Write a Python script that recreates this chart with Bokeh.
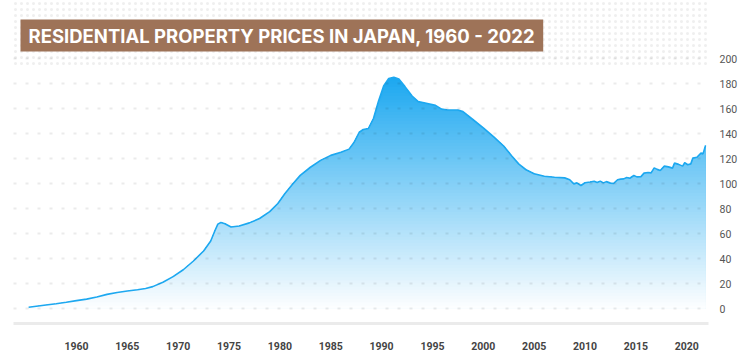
import numpy as np
from bokeh.plotting import figure
from bokeh.models import Label, FixedTicker, Range1d
from bokeh.embed import file_html
from bokeh.resources import INLINE

# ---- data ----
years = [1955.3, 1957.0, 1958.0, 1959.0, 1960.0, 1961.0, 1962.0, 1963.0, 1964.0, 1965.0,
         1966.0, 1966.8, 1967.5, 1968.5, 1969.5, 1970.5, 1971.5, 1972.5, 1973.2, 1973.6,
         1973.9, 1974.2, 1974.6, 1975.2, 1976.0, 1977.0, 1978.0, 1979.0, 1979.8, 1980.5,
         1981.2, 1982.0, 1983.0, 1984.0, 1985.0, 1986.0, 1986.8, 1987.3, 1987.8, 1988.2,
         1988.7, 1989.2, 1989.7, 1990.2, 1990.7, 1991.2, 1991.7, 1992.3, 1993.0, 1993.6,
         1994.5, 1995.3, 1995.9, 1996.5, 1997.5, 1998.0, 1999.0, 2000.0, 2001.0, 2002.0,
         2002.8, 2003.5, 2004.2, 2005.0, 2006.0, 2007.0, 2008.0, 2008.5, 2008.9, 2009.2,
         2009.6, 2010.0, 2010.5, 2010.9, 2011.2, 2011.5, 2011.8, 2012.1, 2012.5, 2012.8,
         2013.2, 2013.5, 2013.8, 2014.1, 2014.4, 2014.8, 2015.1, 2015.5, 2015.8, 2016.2,
         2016.5, 2016.8, 2017.1, 2017.4, 2017.8, 2018.2, 2018.6, 2018.8, 2019.2, 2019.6,
         2019.8, 2020.1, 2020.4, 2020.6, 2021.0, 2021.4, 2021.6, 2021.85]
prices = [1.0, 2.8, 3.8, 5.0, 6.3, 7.5, 9.2, 11.3, 12.8, 14.0,
          15.0, 16.0, 17.5, 21.0, 25.5, 31.0, 38.0, 46.0, 54.0, 62.0,
          67.5, 68.8, 67.8, 65.2, 66.0, 68.5, 72.0, 77.5, 84.0, 92.0,
          99.0, 106.5, 113.0, 118.5, 122.5, 125.0, 127.5, 133.0, 141.0, 143.2,
          144.0, 152.0, 166.0, 178.0, 184.0, 185.0, 183.5, 177.5, 170.0, 165.5,
          164.0, 162.5, 159.5, 158.8, 158.8, 157.5, 151.0, 144.5, 137.5, 130.0,
          122.0, 115.5, 111.0, 107.8, 105.8, 105.0, 104.5, 103.0, 99.7, 100.5,
          98.4, 100.6, 101.2, 101.8, 100.8, 101.9, 100.5, 101.5, 100.3, 100.0,
          103.0, 103.5, 103.7, 104.8, 104.2, 106.4, 105.3, 105.5, 108.3, 108.8,
          108.5, 112.5, 111.3, 110.4, 113.9, 113.3, 112.3, 116.3, 115.3, 113.9,
          116.6, 115.0, 115.7, 120.3, 121.0, 124.3, 123.7, 130.4]
x_ticks = [1960, 1965, 1970, 1975, 1980, 1985, 1990, 1995, 2000, 2005, 2010, 2015, 2020]
y_ticks = [0, 20, 40, 60, 80, 100, 120, 140, 160, 180, 200]
title_text = "RESIDENTIAL PROPERTY PRICES IN JAPAN, 1960 - 2022"

xs = np.array(years)
vs = np.array(prices)

p = figure(width=750, height=353, output_backend="svg", toolbar_location=None,
           x_range=Range1d(1953.81, 2022.14), y_range=Range1d(-12, 246.4),
           min_border_left=13, min_border_right=42, min_border_top=0, min_border_bottom=30,
           x_axis_location="below", y_axis_location="right")
p.outline_line_color = None
p.background_fill_color = "white"
p.border_fill_color = "white"

# decorative dotted band at the top
p.quad(left=[1950], right=[2030], bottom=[193], top=[260], fill_color=None, line_color=None,
       hatch_pattern="dot", hatch_color="#d8d8d8", hatch_scale=6, hatch_weight=1.5, hatch_alpha=0.4)

# vertical gradient fill, built from stacked areas
top_rgb = (29, 168, 240)
vmax = max(prices)
def grad(v):
    t = max(0.0, min(v / vmax, 1.0))
    r = int(round(255 + (top_rgb[0] - 255) * t))
    g = int(round(255 + (top_rgb[1] - 255) * t))
    b = int(round(255 + (top_rgb[2] - 255) * t))
    return "#%02x%02x%02x" % (r, g, b)

levels = np.arange(vmax, 0, -2.5)
for hi in levels:
    p.varea(x=xs, y1=np.zeros_like(vs), y2=np.minimum(vs, hi), fill_color=grad(hi), fill_alpha=1.0)

p.line(xs, vs, line_color="#1da8f0", line_width=1.6)

# grid
p.xgrid.grid_line_color = None
p.ygrid.grid_line_color = "#000000"
p.ygrid.grid_line_alpha = 0.08
p.ygrid.grid_line_width = 2
p.ygrid.grid_line_dash = "3 9"
p.ygrid.level = "annotation"
p.ygrid.ticker = FixedTicker(ticks=y_ticks)

# axes
xa = p.xaxis[0]
xa.ticker = FixedTicker(ticks=x_ticks)
xa.axis_line_color = "#ebebeb"
xa.axis_line_width = 3
xa.major_tick_line_color = None
xa.minor_tick_line_color = None
xa.major_label_standoff = 12
xa.major_label_text_font = "Roboto"
xa.major_label_text_font_size = "10.5px"
xa.major_label_text_font_style = "bold"
xa.major_label_text_color = "#444444"

ya = p.yaxis[0]
ya.ticker = FixedTicker(ticks=y_ticks)
ya.axis_line_color = None
ya.major_tick_line_color = None
ya.minor_tick_line_color = None
ya.major_label_standoff = 5
ya.major_label_text_font = "Roboto"
ya.major_label_text_font_size = "10.5px"
ya.major_label_text_color = "#555555"

title = Label(x=7, y=288, x_units="screen", y_units="screen", text=title_text,
              text_color="white", text_font="Inter", text_font_size="18.5px",
              text_font_style="bold", text_baseline="middle", text_align="left",
              background_fill_color="#9e7358", padding=(8, 5))
p.add_layout(title)

open("out.html", "w").write(file_html(p, INLINE))
